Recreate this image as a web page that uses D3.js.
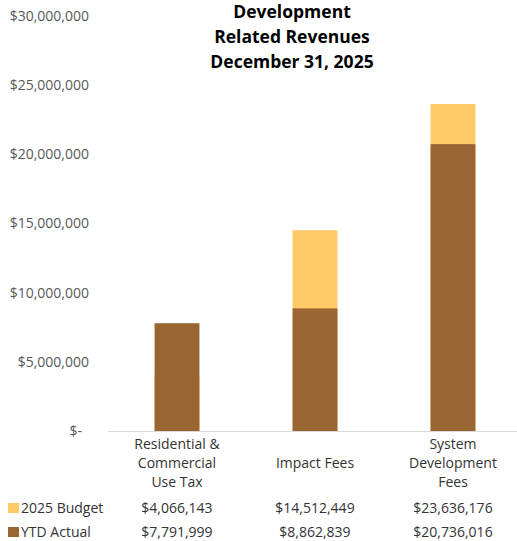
<!DOCTYPE html>
<html>
<head>
<meta charset="utf-8">
<script src="https://cdn.jsdelivr.net/npm/d3@7"></script>
<style>
  html, body { margin: 0; padding: 0; background: #fff; }
  svg { display: block; font-family: "Open Sans", sans-serif; }
</style>
</head>
<body>
<svg id="chart" width="517" height="541"></svg>
<script>
// Category labels, one entry per wrapped line
const categoryLines = [
  ["Residential &", "Commercial", "Use Tax"],
  ["Impact Fees"],
  ["System", "Development", "Fees"]
];
const budget = [4066143, 14512449, 23636176];
const actual = [7791999, 8862839, 20736016];
const seriesNames = ["2025 Budget", "YTD Actual"];
const titleLines = ["Development", "Related Revenues", "December 31, 2025"];
const yTicks = [0, 5000000, 10000000, 15000000, 20000000, 25000000, 30000000];

const colors = { budget: "#FFC966", actual: "#996633" };
const FONT = "'Open Sans', sans-serif";
const textSize = "14px";

const svg = d3.select("#chart");
const plot = { left: 108, right: 522, top: 16, bottom: 431 };

const x = d3.scaleBand()
  .domain(d3.range(categoryLines.length))
  .range([plot.left, plot.right])
  .padding(0);
const barW = x.bandwidth() * 0.325;

const y = d3.scaleLinear()
  .domain([0, 30000000])
  .range([plot.bottom, plot.top]);

const money = d3.format("$,.0f");

// Y axis labels (no domain line, no ticks)
const yAxis = d3.axisLeft(y)
  .tickValues(yTicks)
  .tickSize(0)
  .tickPadding(19)
  .tickFormat(d => d === 0 ? "$-\u2002" : money(d));

const gy = svg.append("g")
  .attr("transform", `translate(${plot.left},0)`)
  .call(yAxis);
gy.select(".domain").remove();
gy.selectAll("text")
  .attr("fill", "#595959")
  .style("font-size", textSize)
  .style("font-family", FONT);

// Budget bars sit behind the actual bars
svg.append("g").selectAll("rect")
  .data(budget)
  .join("rect")
  .attr("x", (d, i) => x(i) + (x.bandwidth() - barW) / 2)
  .attr("width", barW)
  .attr("y", d => y(d))
  .attr("height", d => y(0) - y(d))
  .attr("fill", colors.budget);

svg.append("g").selectAll("rect")
  .data(actual)
  .join("rect")
  .attr("x", (d, i) => x(i) + (x.bandwidth() - barW) / 2)
  .attr("width", barW)
  .attr("y", d => y(d))
  .attr("height", d => y(0) - y(d))
  .attr("fill", colors.actual);

// Category axis baseline
svg.append("line")
  .attr("x1", plot.left).attr("x2", 517)
  .attr("y1", y(0) + 0.5).attr("y2", y(0) + 0.5)
  .attr("stroke", "#D9D9D9")
  .attr("stroke-width", 1);

// Category labels, wrapped and centred on the middle line
const lineH = 19;
const midY = 468;
categoryLines.forEach((lines, i) => {
  const cx = x(i) + x.bandwidth() / 2;
  const t = svg.append("text")
    .attr("text-anchor", "middle")
    .attr("fill", "#333333")
    .style("font-size", textSize);
  lines.forEach((ln, k) => {
    t.append("tspan")
      .attr("x", cx)
      .attr("y", midY + (k - (lines.length - 1) / 2) * lineH)
      .text(ln);
  });
});

// Data table rows with legend keys
const rows = [
  { name: seriesNames[0], values: budget, color: colors.budget, y: 513 },
  { name: seriesNames[1], values: actual, color: colors.actual, y: 537 }
];
rows.forEach(r => {
  svg.append("rect")
    .attr("x", 8).attr("y", r.y - 10)
    .attr("width", 11).attr("height", 10)
    .attr("fill", r.color);
  svg.append("text")
    .attr("x", 21).attr("y", r.y)
    .attr("fill", "#333333")
    .style("font-size", textSize)
    .text(r.name);
  r.values.forEach((v, i) => {
    svg.append("text")
      .attr("x", x(i) + x.bandwidth() / 2)
      .attr("y", r.y)
      .attr("text-anchor", "middle")
      .attr("fill", "#333333")
      .style("font-size", textSize)
      .text(money(v));
  });
});

// Title
const title = svg.append("text")
  .attr("text-anchor", "middle")
  .attr("fill", "#000")
  .style("font-size", "17.5px")
  .style("font-weight", "bold");
titleLines.forEach((ln, k) => {
  title.append("tspan")
    .attr("x", 292)
    .attr("y", 18 + k * 25)
    .text(ln);
});
</script>
</body>
</html>
